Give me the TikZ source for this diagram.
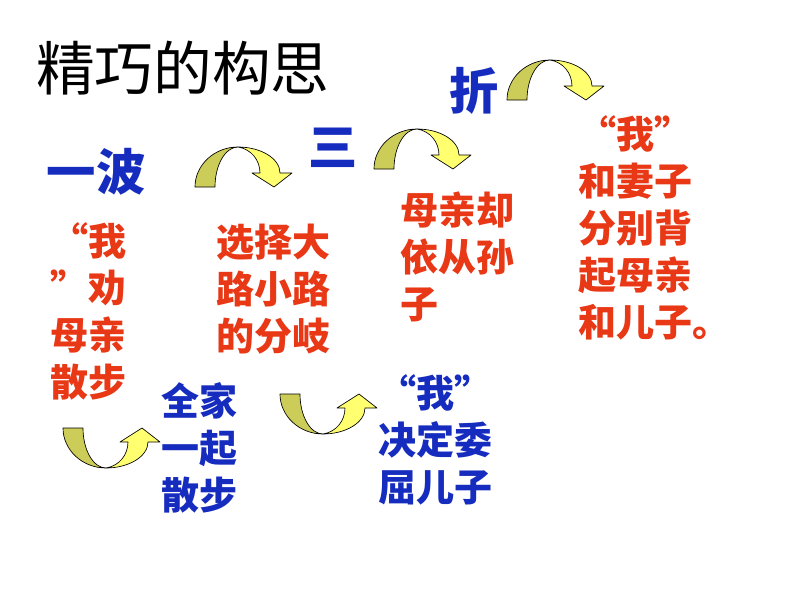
\documentclass[tikz,border=0pt]{standalone}
\usepackage{fontspec}
\newfontfamily\cjk{Noto Sans CJK SC}
\usetikzlibrary{positioning}
\definecolor{dkyel}{RGB}{204,204,88}
\definecolor{ltyel}{RGB}{255,255,112}
\definecolor{redtxt}{RGB}{232,56,22}
\definecolor{bluetxt}{RGB}{22,44,190}
\newcommand\qo{\makebox[1em][r]{“}}
\newcommand\qc{\makebox[1em][l]{”}}
\tikzset{
  curvarrow/.pic={
    \filldraw[fill=dkyel,draw=black,line width=0.5pt,line join=round]
      (0,0) .. controls (0,-22) and (19.3,-40) .. (43,-40)
      .. controls (30.3,-40) and (20,-22) .. (20,0) -- cycle;
    \filldraw[fill=ltyel,draw=black,line width=0.5pt,line join=round]
      (43,-40) .. controls (66,-40) and (85,-28.4) .. (85,-14)
      -- (97,-14) -- (79,0) -- (57,-14) -- (65,-14)
      .. controls (65,-27) and (56,-38) .. (43,-40) -- cycle;
  },
  redcol/.style={font={\cjk\bfseries\fontsize{28.5}{35.3}\selectfont},text=redtxt,align=left,anchor=west,inner sep=0pt},
  bluecol/.style={font={\cjk\bfseries\fontsize{28.5}{35.3}\selectfont},text=bluetxt,align=left,anchor=west,inner sep=0pt},
  bluehead/.style={font={\cjk\bfseries\fontsize{37}{40}\selectfont},text=bluetxt,inner sep=0pt},
}
\begin{document}
\begin{tikzpicture}[x=0.75pt,y=-0.75pt]
\fill[white] (0,0) rectangle (794,596);
\path[use as bounding box] (0,0) rectangle (794,596);

\node[font={\cjk\fontsize{44}{48}\selectfont},anchor=west,inner sep=0pt] (title) at (36,68) {精巧的构思};

\node[bluehead] (yibo) at (96,172) {一波};
\node[bluehead] (san) at (333,148) {三};
\node[bluehead] (zhe) at (474,91) {折};

\node[redcol] (c1) at (50,311.5) {\qo 我\\\qc 劝\\母亲\\散步};
\node[redcol] (c2) at (216,289.5) {选择大\\路小路\\的分岐};
\node[redcol] (c3) at (400,257) {母亲却\\依从孙\\子};
\node[redcol] (c4) at (578,228) {\qo 我\qc\\和妻子\\分别背\\起母亲\\和儿子。};
\node[bluecol] (c5) at (161,447.5) {全家\\一起\\散步};
\node[bluecol] (c6) at (378,439.5) {\qo 我\qc\\决定委\\屈儿子};

\path (195,187) pic {curvarrow};
\path (374,169) pic {curvarrow};
\path (507,100) pic {curvarrow};
\path (63,428) pic[yscale=-1] {curvarrow};
\path (280,394) pic[yscale=-1] {curvarrow};
\end{tikzpicture}
\end{document}
